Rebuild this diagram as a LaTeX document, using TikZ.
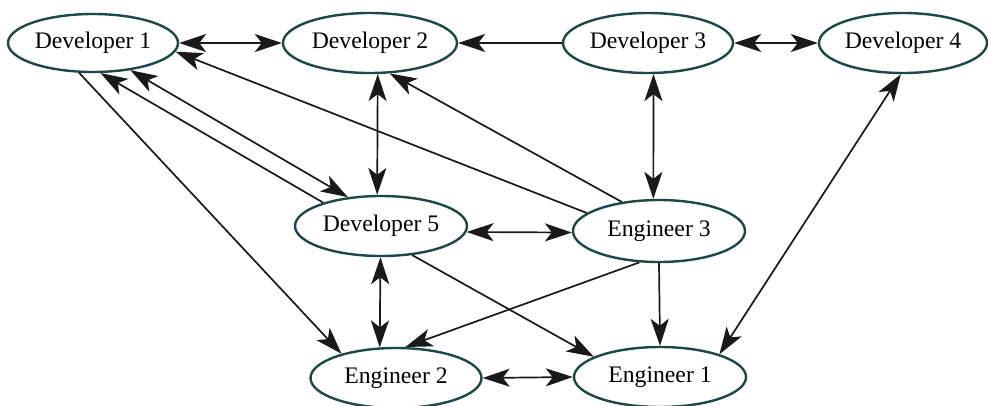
\documentclass[tikz,border=0pt]{standalone}
\usepackage{fontspec}
\setmainfont{Liberation Serif}
\usetikzlibrary{shapes.geometric,arrows.meta}
\definecolor{rim}{RGB}{28,72,72}
\tikzset{
  >={Stealth[length=27pt, width=18pt, inset=7pt]},
  person/.style={ellipse, draw=rim, line width=2.4pt, minimum width=172pt, minimum height=60pt, inner sep=0pt, font=\fontsize{23.7}{28}\selectfont},
  link/.style={line width=1.7pt, draw=black!90},
  one/.style={link, ->},
  two/.style={link, <->}
}
\begin{document}
\begin{tikzpicture}[x=1pt,y=-1pt]
\useasboundingbox (0,0) rectangle (988,405);
\node[person, minimum width=170pt, minimum height=58pt] (d1) at (93,43) {Developer 1};
\node[person, minimum width=174pt] (d2) at (370,43) {Developer 2};
\node[person, minimum width=170pt] (d3) at (648,43) {Developer 3};
\node[person, minimum width=168pt] (d4) at (903,43) {Developer 4};
\node[person] (d5) at (381,226) {Developer 5};
\node[person, minimum height=62pt] (e3) at (659,231) {Engineer 3};
\node[person, minimum width=171pt] (e2) at (396,378) {Engineer 2};
\node[person] (e1) at (660,377) {Engineer 1};

\draw[two] (d1.east) -- (d2.west);
\draw[one] (d3.west) -- (d2.east);
\draw[two] (d3.east) -- (d4.west);
\draw[two] (d3.-80.5) -- (e3.100.9);
\draw[two] (d2.-76.9) -- (d5.97.6);
\draw[one] (e3.166.3) -- (d1.-6.8);
\draw[one] (e3.142.1) -- (d2.-57.7);
\draw[one] (d5.158.7) -- (d1.-76.4);
\draw[two] (d1.-36.6) -- (d5.139.5);
\draw[one] (d1.245.9) -- (e2.156.5);
\draw[two] (d5.-4.7) -- (e3.181.3);
\draw[two] (d5.-91.8) -- (e2.118);
\draw[one] (d5.-43.2) -- (e1.163.6);
\draw[one] (e3.-122.3) -- (e2.73.3);
\draw[one] (e3.south) -- (e1.north);
\draw[two] (e2.east) -- (e1.west);
\draw[two] (d4.-94) -- (e1.21.3);
\end{tikzpicture}
\end{document}
